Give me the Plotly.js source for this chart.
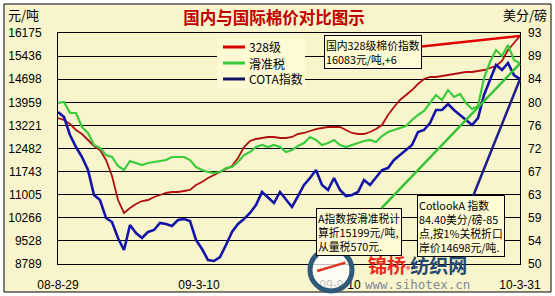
<!DOCTYPE html>
<html><head><meta charset="utf-8">
<script src="https://cdn.plot.ly/plotly-3.0.1.min.js"></script>
<style>html,body{margin:0;padding:0;background:#fff;}#chart{width:555px;height:296px;}</style>
</head><body><div id="chart"></div>
<script>
// x axis tick labels and their positions (sample index)
const xLabels = ['08-8-29', '09-3-10', '09-9-10', '10-3-31'];
const xLabelPos = [0, 23.5, 47, 77];

const seriesNames = ['328级', '滑准税', 'COTA指数'];

// 国内328级 (元/吨)
const red328 = [13457,13393,13265,13074,12946,12754,12562,12434,12114,11603,
  10835,10420,10580,10707,10803,10835,10931,10995,11059,11091,
  11091,11123,11155,11315,11411,11539,11635,11731,11826,11922,
  12178,12530,12722,12786,12818,12850,12850,12818,12818,12850,
  12946,12978,13042,13105,13137,13169,13169,13169,13074,12978,
  12946,12946,13010,13105,13233,13553,13809,14033,14193,14352,
  14544,14704,14768,14768,14800,14832,14864,14896,14928,14928,
  14960,14992,15056,15120,15280,15631,15855,16083];

// A指数滑准税折算 (元/吨)
const greenHZ = [13937,13969,13617,13617,13169,12978,12594,12498,12274,12210,
  11922,11795,12082,12018,11954,12018,12050,12082,12114,12210,
  12210,12210,12114,11890,11795,11731,11699,11731,11858,11890,
  12050,12274,12370,12530,12594,12530,12594,12530,12370,12434,
  12562,12658,12850,12754,12594,12658,12754,12594,12530,12594,
  12658,12722,12754,12690,12882,13010,13074,13137,13201,13393,
  13553,13681,13937,14193,14033,14352,14129,14225,13937,13745,
  13841,14736,15248,15631,15440,15791,15312,15199];

// COTA指数 1%关税折算 (元/吨)
const blueCOTA = [13649,13489,12914,12530,12210,11795,10995,10835,10260,10132,
  9620,9237,10036,9780,9620,9812,9876,10100,10068,10004,
  10196,10228,10164,9556,9268,8917,8885,9013,9396,9812,
  10068,10228,10420,10676,11091,10899,10739,11091,10867,10612,
  10963,11315,11539,11795,11315,11155,11539,11155,10963,10995,
  11091,11475,11315,11539,11795,11858,12114,12274,12434,12594,
  13010,13074,13297,13713,13713,13905,13713,13553,13393,13233,
  13457,14193,14672,15152,14992,15216,14832,14698];

const leftTicks = [16175, 15436, 14698, 13959, 13221, 12482, 11743, 11005, 10266, 9528, 8789];
const rightTicks = ['93', '89', '84', '80', '76', '72', '67', '63', '59', '54', '50'];
const rightRange = [50, 93];

const idx = red328.map((_, i) => i);
const last = idx.length - 1;

const PLOT_BG = '#FDFAD4';
const CJK = 'Noto Sans CJK SC, sans-serif';
const LAT = 'Liberation Sans, Arial, sans-serif';

const traces = [
  {x: idx, y: red328, name: seriesNames[0], type: 'scatter', mode: 'lines',
   line: {color: '#B01010', width: 1.8}},
  {x: idx, y: greenHZ, name: seriesNames[1], type: 'scatter', mode: 'lines',
   line: {color: '#3CCB3C', width: 2.2}},
  {x: idx, y: blueCOTA, name: seriesNames[2], type: 'scatter', mode: 'lines',
   line: {color: '#1414A8', width: 2.6}},
  // empty trace that only carries the right-hand 美分/磅 axis
  {x: [], y: [], yaxis: 'y2', type: 'scatter', mode: 'lines', showlegend: false, hoverinfo: 'skip'}
];

const rStep = (rightRange[1] - rightRange[0]) / (rightTicks.length - 1);
const rightVals = rightTicks.map((t, k) => rightRange[1] - k * rStep);

const boxFont = {family: CJK, size: 10.8, color: '#000'};
const annotations = [
  {x: last, y: red328[last], xref: 'x', yref: 'y', ax: -147, ay: 16, axref: 'pixel', ayref: 'pixel',
   text: '国内328级棉价指数<br>' + red328[last] + '元/吨,+6', align: 'left',
   showarrow: true, arrowhead: 0, arrowwidth: 2.5, arrowcolor: '#E00000',
   bgcolor: PLOT_BG, bordercolor: '#000', borderwidth: 1, borderpad: 1, font: boxFont},
  {x: last, y: greenHZ[last], xref: 'x', yref: 'y', ax: -161, ay: 168, axref: 'pixel', ayref: 'pixel',
   text: 'A指数按滑准税计<br>算折' + greenHZ[last] + '元/吨,<br>从量税570元.', align: 'left',
   showarrow: true, arrowhead: 0, arrowwidth: 2.5, arrowcolor: '#36C236',
   bgcolor: PLOT_BG, bordercolor: '#000', borderwidth: 1, borderpad: 1, font: boxFont},
  {x: last, y: blueCOTA[last], xref: 'x', yref: 'y', ax: -59, ay: 147, axref: 'pixel', ayref: 'pixel',
   text: 'CotlookA 指数<br>84.40美分/磅-85<br>点,按1%关税折口<br>岸价' + blueCOTA[last] + '元/吨.', align: 'left',
   showarrow: true, arrowhead: 0, arrowwidth: 2.5, arrowcolor: '#1E1E8C',
   bgcolor: PLOT_BG, bordercolor: '#000', borderwidth: 1, borderpad: 1, font: boxFont},
  {x: -0.0736, y: 1.082, xref: 'paper', yref: 'paper', text: '元/吨', showarrow: false,
   xanchor: 'center', yanchor: 'middle', font: {family: CJK, size: 13, color: '#000'}},
  {x: 1.0108, y: 1.082, xref: 'paper', yref: 'paper', text: '美分/磅', xanchor: 'center', yanchor: 'middle',
   showarrow: false, font: {family: CJK, size: 13, color: '#000'}},
  {x: 0.779, y: -0.002, xref: 'paper', yref: 'paper', showarrow: false, xanchor: 'center', yanchor: 'middle',
   text: '<b><span style="color:#E8281E">锦桥</span><span style="font-size:8px;color:#E8281E">®</span><span style="color:#23496F">纺织网</span></b>',
   font: {family: CJK, size: 19}},
  {x: 0.779, y: -0.089, xref: 'paper', yref: 'paper', showarrow: false, xanchor: 'center', yanchor: 'middle',
   text: 'www.sihotex.cn', font: {family: 'DejaVu Sans Mono, monospace', size: 12.5, color: '#7F8C99'}}
];

// hand-drawn legend (names from seriesNames)
const legendColors = ['#D40000', '#3CCB3C', '#141460'];
const legendY = [0.9394, 0.8701, 0.8009];
seriesNames.forEach((n, k) => {
  annotations.push({x: 0.4091, y: legendY[k], xref: 'paper', yref: 'paper', text: n, showarrow: false,
    xanchor: 'left', yanchor: 'middle', font: {family: CJK, size: 12, color: '#000'}});
});

const shapes = [
  {type: 'rect', xref: 'paper', yref: 'paper', x0: -0.1169, x1: 1.0671, y0: -0.1212, y1: 1.1255,
   fillcolor: '#F8F4CB', line: {color: '#000', width: 1}, layer: 'below'},
  {type: 'rect', xref: 'paper', yref: 'paper', x0: 0.3442, x1: 0.5346, y0: 0.7619, y1: 0.974,
   fillcolor: PLOT_BG, line: {width: 0}, layer: 'above'},
  {type: 'circle', xref: 'paper', yref: 'paper', x0: 0.5455, x1: 0.6364, y0: -0.1169, y1: 0.0649,
   fillcolor: 'rgba(255,255,255,0.75)', line: {color: '#2F5B7A', width: 5}, layer: 'above'},
  {type: 'path', xref: 'paper', yref: 'paper', path: 'M 0.561,-0.030 Q 0.592,-0.012 0.622,0.006',
   line: {color: '#E0301E', width: 2.5}, layer: 'above'}
];
legendColors.forEach((c, k) => {
  shapes.push({type: 'line', xref: 'paper', yref: 'paper', x0: 0.3571, x1: 0.4048,
    y0: legendY[k], y1: legendY[k], line: {color: c, width: 3}, layer: 'above'});
});

const layout = {
  width: 555, height: 296,
  margin: {l: 58, r: 35, t: 33, b: 32, pad: 0},
  paper_bgcolor: '#FFFFFF',
  plot_bgcolor: PLOT_BG,
  title: {text: '国内与国际棉价对比图示', x: 0.4675, xref: 'paper', xanchor: 'center',
          y: 0.939, yref: 'container', yanchor: 'middle',
          font: {family: CJK, size: 16.5, color: '#C00000', weight: 'bold'}},
  showlegend: false,
  xaxis: {range: [0, last], tickmode: 'array', tickvals: xLabelPos, ticktext: xLabels,
          showgrid: false, zeroline: false, showline: true, mirror: true, linecolor: '#000', linewidth: 1,
          ticks: '', ticklabelstandoff: 10, tickfont: {family: LAT, size: 12, color: '#000'}},
  yaxis: {range: [leftTicks[leftTicks.length - 1], leftTicks[0]], tickmode: 'array',
          tickvals: leftTicks, ticktext: leftTicks.map(String),
          showgrid: true, gridcolor: '#000', gridwidth: 1, zeroline: false,
          showline: true, mirror: true, linecolor: '#000', linewidth: 1,
          ticks: '', ticklabelstandoff: 13, tickfont: {family: LAT, size: 12, color: '#000'}},
  yaxis2: {overlaying: 'y', side: 'right', range: rightRange, tickmode: 'array',
           tickvals: rightVals, ticktext: rightTicks, showgrid: false, zeroline: false,
           showline: false, ticks: '', ticklabelstandoff: 7,
           tickfont: {family: LAT, size: 12, color: '#000'}},
  annotations: annotations,
  shapes: shapes
};

Plotly.newPlot('chart', traces, layout, {displayModeBar: false, staticPlot: true});
</script>
</body></html>
